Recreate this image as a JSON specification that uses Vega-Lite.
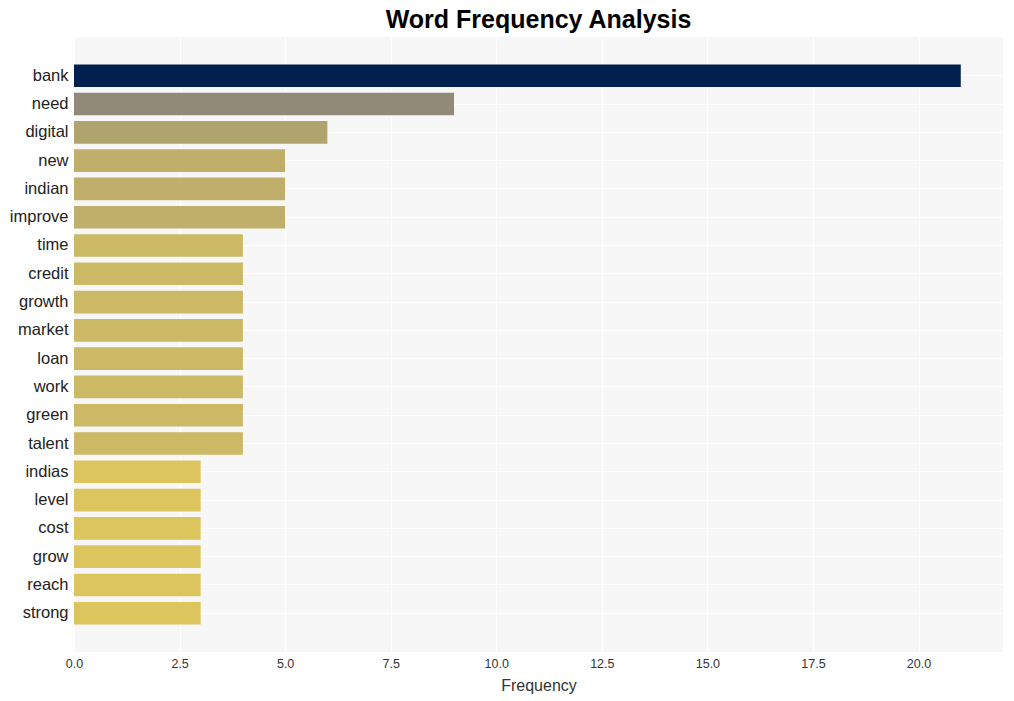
{
  "$schema": "https://vega.github.io/schema/vega-lite/v6.json",
  "width": 929,
  "height": 615,
  "autosize": {"type": "none"},
  "padding": {"left": 74, "top": 37, "right": 11, "bottom": 49},
  "background": "white",
  "title": {"text": "Word Frequency Analysis", "fontSize": 25, "fontWeight": "bold", "font": "Liberation Sans", "color": "#000000", "anchor": "middle", "offset": 4},
  "config": {
    "view": {"fill": "#f7f7f7", "stroke": null},
    "axis": {"domain": false, "ticks": false, "gridColor": "#ffffff", "gridWidth": 1, "labelFont": "Liberation Sans", "titleFont": "Liberation Sans", "labelColor": "#333333", "titleColor": "#333333"}
  },
  "data": {"values": [
    {"word": "bank", "count": 21, "color": "#00204f"},
    {"word": "need", "count": 9, "color": "#918a78"},
    {"word": "digital", "count": 6, "color": "#b0a46e"},
    {"word": "new", "count": 5, "color": "#bfaf6b"},
    {"word": "indian", "count": 5, "color": "#bfaf6b"},
    {"word": "improve", "count": 5, "color": "#bfaf6b"},
    {"word": "time", "count": 4, "color": "#cbb966"},
    {"word": "credit", "count": 4, "color": "#cbb966"},
    {"word": "growth", "count": 4, "color": "#cbb966"},
    {"word": "market", "count": 4, "color": "#cbb966"},
    {"word": "loan", "count": 4, "color": "#cbb966"},
    {"word": "work", "count": 4, "color": "#cbb966"},
    {"word": "green", "count": 4, "color": "#cbb966"},
    {"word": "talent", "count": 4, "color": "#cbb966"},
    {"word": "indias", "count": 3, "color": "#dcc55c"},
    {"word": "level", "count": 3, "color": "#dcc55c"},
    {"word": "cost", "count": 3, "color": "#dcc55c"},
    {"word": "grow", "count": 3, "color": "#dcc55c"},
    {"word": "reach", "count": 3, "color": "#dcc55c"},
    {"word": "strong", "count": 3, "color": "#dcc55c"}
  ]},
  "mark": {"type": "bar"},
  "encoding": {
    "y": {"field": "word", "type": "nominal", "sort": null,
      "scale": {"paddingInner": 0.2, "paddingOuter": 0.97},
      "axis": {"title": null, "grid": true, "bandPosition": 0.5, "labelFontSize": 16.5, "labelPadding": 6, "labelColor": "#222222"}},
    "x": {"field": "count", "type": "quantitative",
      "scale": {"domain": [0, 22], "nice": false},
      "axis": {"title": "Frequency", "values": [0, 2.5, 5, 7.5, 10, 12.5, 15, 17.5, 20], "format": ".1f", "labelFlush": false, "labelFontSize": 12.5, "titleFontSize": 16, "titleFontWeight": "normal", "labelPadding": 5, "titlePadding": 8}},
    "color": {"field": "color", "type": "nominal", "scale": null}
  }
}
